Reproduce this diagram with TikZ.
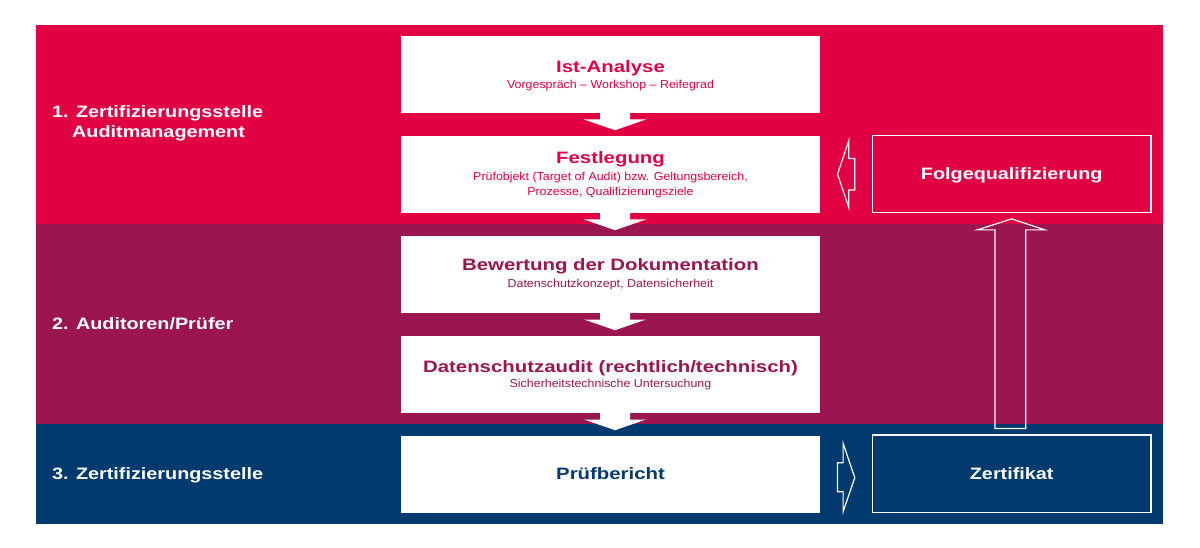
\documentclass[tikz,border=0pt]{standalone}
\usepackage{fontspec}
\setmainfont{Liberation Sans}
\newfontfamily\widefont{Liberation Sans}[FakeStretch=1.2]
\newfontfamily\titlefont{Liberation Sans}[FakeStretch=1.235]
\newfontfamily\subfontfam{Liberation Sans}[FakeStretch=1.08]
\usetikzlibrary{calc}
\definecolor{cred}{HTML}{E20045}
\definecolor{cpurple}{HTML}{9B1651}
\definecolor{cnavy}{HTML}{003A6E}
\tikzset{
  band/.style={fill=#1, draw=none},
  stepbox/.style={fill=white, draw=none, minimum width=419pt, minimum height=77pt, inner sep=0pt},
  outbox/.style={draw=white, line width=1.3pt, minimum width=278.5pt, minimum height=76.5pt, inner sep=0pt,
    font=\widefont\bfseries\fontsize{16.5}{18}\selectfont, text=white, text height=12pt, text depth=0pt},
  ttl/.style={font=\titlefont\bfseries\fontsize{16.5}{18}\selectfont, text=#1, inner sep=0pt, anchor=base},
  sub/.style={font=\subfontfam\fontsize{11.5}{14}\selectfont, text=#1, inner sep=0pt, anchor=base},
  lane/.style={font=\widefont\bfseries\fontsize{16.5}{18}\selectfont, text=white, inner sep=0pt, anchor=base west},
  flow/.style={fill=white, draw=none},
  hollow/.style={draw=white, line width=1.2pt, line join=miter, fill=none},
}
\begin{document}
\begin{tikzpicture}[x=1pt,y=-1pt]
\useasboundingbox (0,0) rectangle (1200,548);
\fill[white] (0,0) rectangle (1200,548);
% bands
\fill[band=cred] (36,25) rectangle (1163,224);
\fill[band=cpurple] (36,224) rectangle (1163,423.5);
\fill[band=cnavy] (36,423.5) rectangle (1163,524);
% lane labels
\node[lane] (l1) at (52,118) {1. Zertifizierungsstelle};
\node[lane] (l1b) at (72,138) {Auditmanagement};
\node[lane] (l2) at (52,329) {2. Auditoren/Prüfer};
\node[lane] (l3) at (52,479) {3. Zertifizierungsstelle};
% step boxes
\node[stepbox] (b1) at (610.5,74.2) {};
\node[stepbox] (b2) at (610.5,174.2) {};
\node[stepbox] (b3) at (610.5,274.2) {};
\node[stepbox] (b4) at (610.5,374.2) {};
\node[stepbox] (b5) at (610.5,474.2) {};
% texts
\node[ttl=cred] (t1) at ($(b1.north)+(0,36.6)$) {Ist-Analyse};
\node[sub=cred] (s1) at ($(b1.north)+(0,52.6)$) {Vorgespräch – Workshop – Reifegrad};
\node[ttl=cred] (t2) at ($(b2.north)+(0,28.3)$) {Festlegung};
\node[sub=cred] (s2a) at ($(b2.north)+(0,45)$) {Prüfobjekt (Target of Audit) bzw. Geltungsbereich,};
\node[sub=cred] (s2b) at ($(b2.north)+(0,60)$) {Prozesse, Qualifizierungsziele};
\node[ttl=cpurple] (t3) at ($(b3.north)+(0,35)$) {Bewertung der Dokumentation};
\node[sub=cpurple] (s3) at ($(b3.north)+(0,51.6)$) {Datenschutzkonzept, Datensicherheit};
\node[ttl=cpurple] (t4) at ($(b4.north)+(0,37)$) {Datenschutzaudit (rechtlich/technisch)};
\node[sub=cpurple] (s4) at ($(b4.north)+(0,51.6)$) {Sicherheitstechnische Untersuchung};
\node[ttl=cnavy] (t5) at ($(b5.center)+(0,5.5)$) {Prüfbericht};
% down arrows
\foreach \a in {b1,b2,b3,b4}{
  \begin{scope}[shift={(\a.south)}]
    \fill[flow] (-10.5,-1) -- (-10.5,6.6) -- (-26.5,6.6) -- (4.5,17.3) -- (35.5,6.6) -- (19.5,6.6) -- (19.5,-1) -- cycle;
  \end{scope}
}
% right column
\node[outbox] (fq) at (1011.7,174) {Folgequalifizierung};
\node[outbox, minimum height=77.5pt] (zc) at (1011.7,473.8) {Zertifikat};
% hollow arrow left
\coordinate (m1) at ($(b2.east)!0.5!(fq.west)$);
\begin{scope}[shift={(m1)}]
  \draw[hollow] (-8.5,0) -- (2.8,-33.5) -- (2.8,-15.5) -- (8.8,-15.5) -- (8.8,16) -- (2.8,16) -- (2.8,33.5) -- cycle;
\end{scope}
% hollow arrow right
\coordinate (m2) at ($(b5.east)!0.5!(zc.west)$);
\begin{scope}[shift={(m2)}]
  \draw[hollow] (-8.5,-11.3) -- (-2.9,-11.3) -- (-2.9,-30.7) -- (8.8,3.7) -- (-2.9,37.7) -- (-2.9,17.7) -- (-8.5,17.7) -- cycle;
\end{scope}
% hollow arrow up
\draw[hollow] ($(zc.north)+(-16.7,-6)$) -- ($(fq.south)+(-16.7,17)$) -- ($(fq.south)+(-34.4,17)$)
  -- ($(fq.south)+(0,6)$) -- ($(fq.south)+(33.3,17)$) -- ($(fq.south)+(14,17)$) -- ($(zc.north)+(14,-6)$) -- cycle;
\end{tikzpicture}
\end{document}
